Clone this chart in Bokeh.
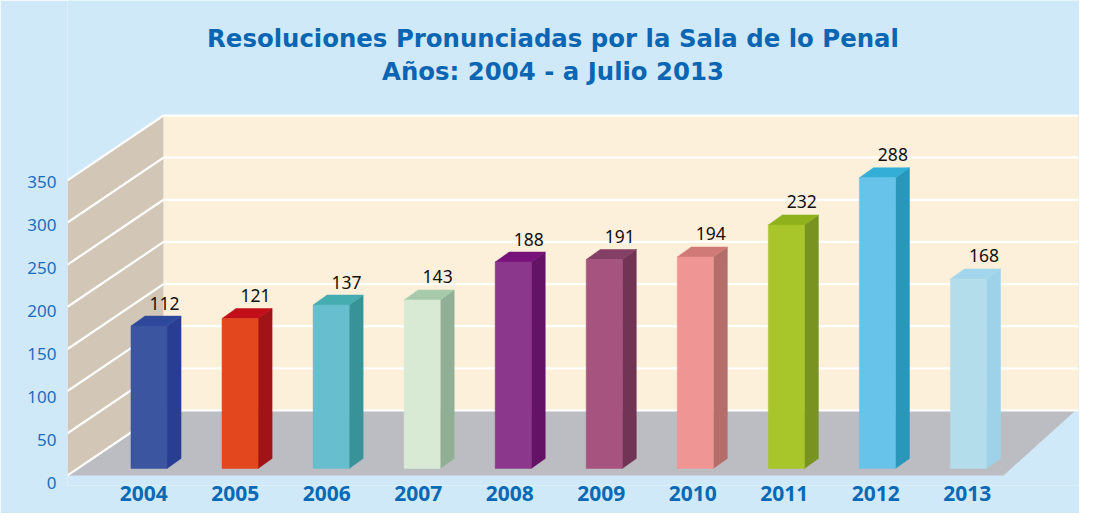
from bokeh.plotting import figure
from bokeh.models import Range1d, LinearAxis, FixedTicker
from bokeh.core.properties import value
from bokeh.embed import file_html
from bokeh.resources import INLINE

# ---------------- data ----------------
years = ["2004", "2005", "2006", "2007", "2008", "2009", "2010", "2011", "2012", "2013"]
resoluciones = [112, 121, 137, 143, 188, 191, 194, 232, 288, 168]
front_colors = ["#3B55A0", "#E2471D", "#66BECE", "#D8EAD3", "#8B388C",
                "#A6537F", "#EF9694", "#A8C52A", "#67C3EA", "#B4DDEC"]
side_colors = ["#293D92", "#A01418", "#379397", "#91AF95", "#631265",
               "#723454", "#B46E6A", "#78931F", "#2A96B9", "#9DD2E8"]
top_colors = ["#2E489B", "#C20E19", "#45ACB0", "#A7CBAA", "#76127A",
              "#843F66", "#D07A78", "#8FB21C", "#33AED6", "#A3D6EC"]
axis_ticks = [0, 50, 100, 150, 200, 250, 300, 350]
title_lines = ["Resoluciones Pronunciadas por la Sala de lo Penal",
               "Años: 2004 - a Julio 2013"]

# ---------------- layout / calibration (canvas pixels) ----------------
W, H = 1079, 513
ML, MB = 67, 28
FX0, FX1 = ML, W            # frame left/right
FY0, FY1 = 0, H - MB        # frame top/bottom

BX0, BXS = 148.5, 91.05     # bar index -> px
LX0, LXS = 143.2, 91.5      # label index -> px
BY0, BYS = 410.0, 0.8429    # back-wall value -> px
FY0v, FYS = 482.6, 0.8605   # front axis value -> px

def ux(px):
    return (px - BX0) / BXS

def uy(py):
    return (BY0 - py) / BYS

BG = "#CFE9F8"
p = figure(width=W, height=H, output_backend="svg", toolbar_location=None,
           x_axis_location=None, y_axis_location=None,
           min_border_left=ML, min_border_right=0, min_border_top=0, min_border_bottom=MB)
p.x_range = Range1d(ux(FX0), ux(FX1))
p.y_range = Range1d(uy(FY1), uy(FY0))
p.extra_x_ranges = {"lab": Range1d((FX0 - LX0) / LXS, (FX1 - LX0) / LXS)}
p.extra_y_ranges = {"front": Range1d((FY0v - FY1) / FYS, (FY0v - FY0) / FYS)}
p.background_fill_color = BG
p.border_fill_color = BG
p.outline_line_color = None
p.grid.visible = False

# ---------------- 3D walls & floor ----------------
xf, xb = ux(FX0), ux(163)          # left wall front / back x
xr = ux(1078)                      # back wall right
depth = 77.0                       # front/back value offset
top = axis_ticks[-1]
p.patch([xf, xb, xb, xf], [-depth, 0, top, top - depth], fill_color="#D2C6B6", line_color=None)
p.patch([xb, xr, xr, xb], [0, 0, top, top], fill_color="#FCF0DA", line_color=None)
p.patch([xf, ux(1003), ux(1075), xb], [-depth, -depth, 0, 0], fill_color="#BCBDC2", line_color=None)
p.multi_line([[xb, xr] for t in axis_ticks], [[t, t] for t in axis_ticks],
             line_color="white", line_width=2.2)
p.multi_line([[xf, xb] for t in axis_ticks], [[t - depth, t] for t in axis_ticks],
             line_color="white", line_width=2.2)

# ---------------- 3D bars ----------------
hw, dx, cap = 0.198, 0.154, 11.86
base = uy(468)
idx = list(range(len(years)))
side_xs = [[i + hw, i + hw + dx, i + hw + dx, i + hw] for i in idx]
side_ys = [[base, base + cap, v, v - cap] for v in resoluciones]
p.patches(side_xs, side_ys, fill_color=side_colors, line_color=side_colors, line_width=0.5)
cap_xs = [[i - hw, i + hw, i + hw + dx, i - hw + dx] for i in idx]
cap_ys = [[v - cap, v - cap, v, v] for v in resoluciones]
p.patches(cap_xs, cap_ys, fill_color=top_colors, line_color=top_colors, line_width=0.5)
p.quad(left=[i - hw for i in idx], right=[i + hw for i in idx],
       bottom=base, top=[v - cap for v in resoluciones],
       fill_color=front_colors, line_color=front_colors, line_width=0.5)

p.text(x=[i + 0.17 for i in idx], y=[v + 15.4 for v in resoluciones],
       text=[str(v) for v in resoluciones], text_align="center", text_baseline="middle",
       text_font=value("Noto Sans"), text_font_size="17.5px", text_color="#111111")

# ---------------- titles ----------------
p.text(x=[ux(552.5)] * 2, y=[uy(38), uy(71)], text=title_lines,
       text_align="center", text_baseline="alphabetic",
       text_font=value("DejaVu Sans"), text_font_style="bold",
       text_font_size="24.4px", text_color="#0A66B2")

# ---------------- axes ----------------
yax = LinearAxis(y_range_name="front", ticker=FixedTicker(ticks=axis_ticks))
yax.axis_line_color = None
yax.major_tick_line_color = None
yax.minor_tick_line_color = None
yax.major_tick_out = 0
yax.major_label_standoff = 11
yax.major_label_text_font = "Noto Sans"
yax.major_label_text_font_size = "17px"
yax.major_label_text_color = "#1A6EBE"
p.add_layout(yax, "left")

xax = LinearAxis(x_range_name="lab", ticker=FixedTicker(ticks=idx),
                 major_label_overrides={i: y for i, y in zip(idx, years)})
xax.axis_line_color = None
xax.major_tick_line_color = None
xax.minor_tick_line_color = None
xax.major_tick_out = 0
xax.major_label_standoff = 0
xax.major_label_text_font = "Noto Sans"
xax.major_label_text_font_style = "bold"
xax.major_label_text_font_size = "21px"
xax.major_label_text_color = "#0A69B4"
p.add_layout(xax, "below")

open("out.html", "w").write(file_html(p, INLINE))
